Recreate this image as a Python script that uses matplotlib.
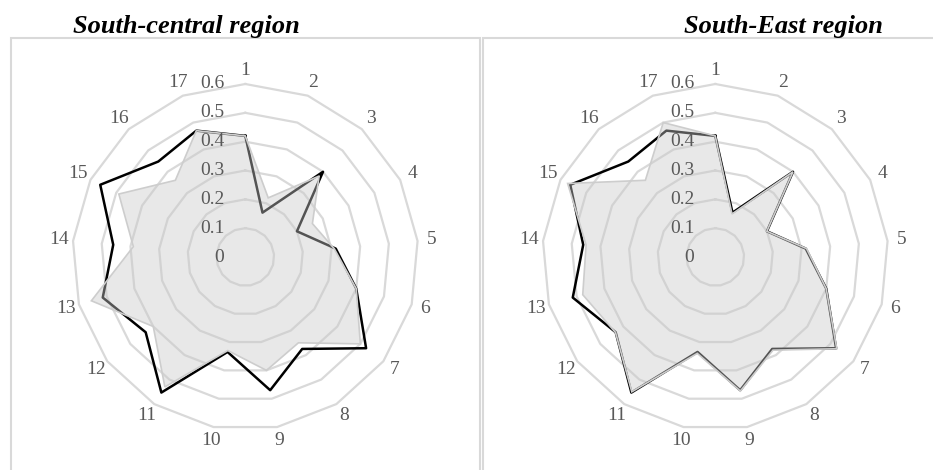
import numpy as np
import matplotlib
matplotlib.use("Agg")
import matplotlib.pyplot as plt
from matplotlib.patches import Rectangle
from matplotlib.transforms import offset_copy

# indicator numbers round the radar
categories = [str(i) for i in range(1, 18)]

# black line, same reference series in both panels
reference = [0.42, 0.165, 0.40, 0.20, 0.315, 0.40, 0.525, 0.375, 0.47, 0.335,
             0.553, 0.433, 0.514, 0.46, 0.562, 0.448, 0.47]

# shaded area, one per region
south_central = [0.42, 0.22, 0.38, 0.26, 0.31, 0.40, 0.50, 0.35, 0.40, 0.33,
                 0.53, 0.40, 0.555, 0.39, 0.49, 0.36, 0.47]
south_east = [0.42, 0.16, 0.40, 0.20, 0.318, 0.40, 0.528, 0.38, 0.473, 0.34,
              0.55, 0.434, 0.478, 0.45, 0.572, 0.36, 0.50]

region_titles = ["South-central region", "South-East region"]
r_ticks = [0, 0.1, 0.2, 0.3, 0.4, 0.5, 0.6]
r_labels = ["0", "0.1", "0.2", "0.3", "0.4", "0.5", "0.6"]

W, H = 933, 470
fig = plt.figure(figsize=(W / 100, H / 100), dpi=100)
fig.patch.set_facecolor("white")

serif = ["Liberation Serif", "DejaVu Serif"]
label_grey = "#595959"
grid_grey = "#d9d9d9"

angles = np.linspace(0, 2 * np.pi, len(categories), endpoint=False)
closed = np.append(angles, angles[0])


def closed_vals(vals):
    return np.append(vals, vals[0])


# panel frames (left, right), in pixels
frames = [(11, 480), (483, 950)]
centres = [(245.3, 257), (715.3, 257)]
title_x = [73, 684]
radius_px = 173

for k, (area, title) in enumerate(zip([south_central, south_east], region_titles)):
    x0, x1 = frames[k]
    fig.patches.append(Rectangle((x0 / W, -0.1), (x1 - x0) / W, 1.1 - 38 / H,
                                 transform=fig.transFigure, fill=False,
                                 edgecolor=grid_grey, linewidth=1.5))

    cx, cy = centres[k]
    ax = fig.add_axes([(cx - radius_px) / W, (H - cy - radius_px) / H,
                       2 * radius_px / W, 2 * radius_px / H], projection="polar")
    ax.set_theta_zero_location("N")
    ax.set_theta_direction(-1)
    ax.set_ylim(0, 0.6)
    ax.grid(False)
    ax.spines["polar"].set_visible(False)
    ax.patch.set_alpha(0)
    ax.set_yticks([])

    # polygon gridlines
    for v in r_ticks[1:]:
        ax.plot(closed, [v] * len(closed), color=grid_grey, lw=1.6, zorder=1,
                clip_on=False)

    ax.plot(closed, closed_vals(reference), color="black", lw=1.8, zorder=2,
            clip_on=False)
    ax.fill(closed, closed_vals(area), facecolor=(0.79, 0.79, 0.79, 0.42),
            edgecolor="#cdcdcd", lw=1.2, zorder=3, clip_on=False)

    ax.set_xticks(angles)
    ax.set_xticklabels(categories, family=serif, fontsize=14, color=label_grey)
    ax.tick_params(axis="x", pad=3, length=0)

    shift = offset_copy(ax.transData, fig=fig, x=-15, y=0, units="points")
    for v, lab in zip(r_ticks, r_labels):
        ax.text(0, v, lab, transform=shift, ha="right", va="center",
                family=serif, fontsize=14, color=label_grey, zorder=4)

    fig.text(title_x[k] / W, (H - 33) / H, title, ha="left", va="baseline",
             family=serif, fontsize=19, fontweight="bold", fontstyle="italic")

fig.savefig("out.png", dpi=100, facecolor="white")
